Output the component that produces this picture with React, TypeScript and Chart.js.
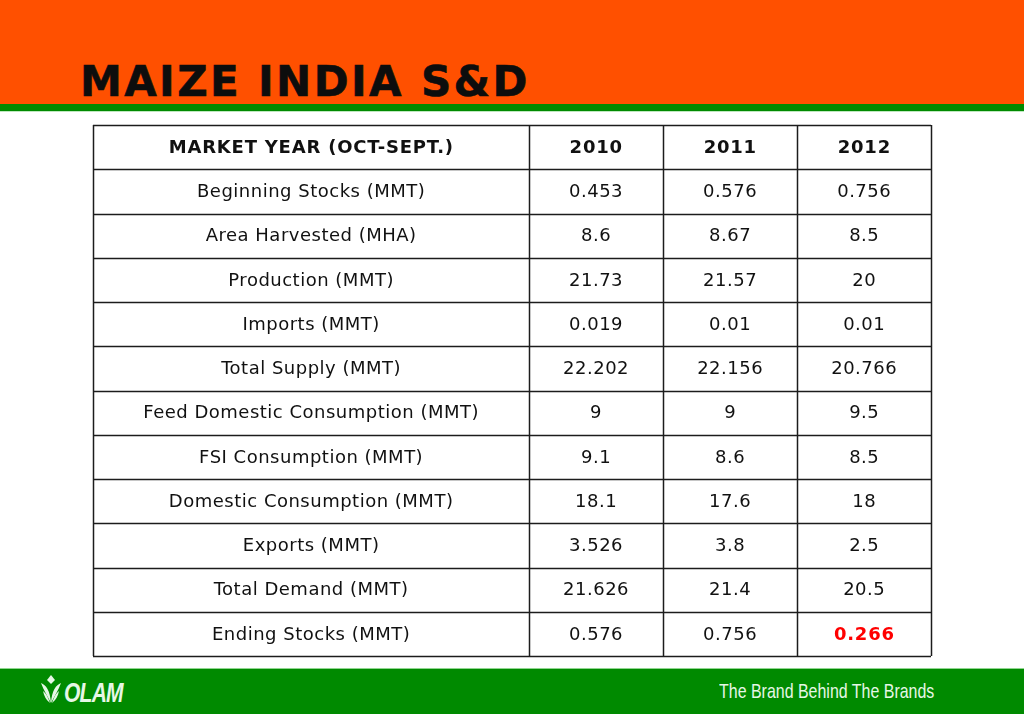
import React, { useEffect, useRef } from "react";
import { Chart, registerables } from "chart.js";
Chart.register(...registerables);

const title = "MAIZE INDIA S&D";
const headerLabel = "MARKET YEAR (OCT-SEPT.)";
const years = ["2010", "2011", "2012"];
const rowLabels = [
  "Beginning Stocks (MMT)",
  "Area Harvested (MHA)",
  "Production (MMT)",
  "Imports (MMT)",
  "Total Supply (MMT)",
  "Feed Domestic Consumption (MMT)",
  "FSI Consumption (MMT)",
  "Domestic Consumption (MMT)",
  "Exports (MMT)",
  "Total Demand (MMT)",
  "Ending Stocks (MMT)",
];
const values2010 = [0.453, 8.6, 21.73, 0.019, 22.202, 9, 9.1, 18.1, 3.526, 21.626, 0.576];
const values2011 = [0.576, 8.67, 21.57, 0.01, 22.156, 9, 8.6, 17.6, 3.8, 21.4, 0.756];
const values2012 = [0.756, 8.5, 20, 0.01, 20.766, 9.5, 8.5, 18, 2.5, 20.5, 0.266];
const highlightCells = [{ row: 10, year: "2012" }];
const columnEdges = [0, 3.25, 4.25, 5.25, 6.25];
const tagline = "The Brand Behind The Brands";
const brand = "OLAM";

const FONT = "'DejaVu Sans', Verdana, sans-serif";

type Cell = { x: number; y: number; text: string; bold: boolean; color: string };

function buildCells(): Cell[] {
  const cells: Cell[] = [];
  const center = (c: number) => (columnEdges[c] + columnEdges[c + 1]) / 2;
  cells.push({ x: center(0), y: 0.5, text: headerLabel, bold: true, color: "#111" });
  years.forEach((yr, i) => cells.push({ x: center(i + 1), y: 0.5, text: yr, bold: true, color: "#111" }));
  const series = [values2010, values2011, values2012];
  rowLabels.forEach((lab, r) => {
    cells.push({ x: center(0), y: r + 1.5, text: lab, bold: false, color: "#111" });
    series.forEach((vals, i) => {
      const hl = highlightCells.some((h) => h.row === r && h.year === years[i]);
      cells.push({
        x: center(i + 1),
        y: r + 1.5,
        text: String(vals[r]),
        bold: hl,
        color: hl ? "#FF0000" : "#111",
      });
    });
  });
  return cells;
}

const tablePlugin = {
  id: "tablePlugin",
  beforeDatasetsDraw(chart: any) {
    const { ctx, scales } = chart;
    const xs = scales.x;
    const ys = scales.y;
    const nRows = rowLabels.length + 1;
    ctx.save();
    ctx.strokeStyle = "#1c1c1c";
    ctx.lineWidth = 1.5;
    const top = ys.getPixelForValue(0);
    const bottom = ys.getPixelForValue(nRows);
    const left = xs.getPixelForValue(columnEdges[0]);
    const right = xs.getPixelForValue(columnEdges[columnEdges.length - 1]);
    ctx.beginPath();
    columnEdges.forEach((e) => {
      const px = Math.round(xs.getPixelForValue(e)) + 0.5;
      ctx.moveTo(px, top);
      ctx.lineTo(px, bottom);
    });
    for (let r = 0; r <= nRows; r++) {
      const py = Math.round(ys.getPixelForValue(r)) + 0.5;
      ctx.moveTo(left, py);
      ctx.lineTo(right, py);
    }
    ctx.stroke();
    ctx.restore();
  },
  afterDatasetsDraw(chart: any) {
    const { ctx } = chart;
    const meta = chart.getDatasetMeta(0);
    const data = chart.data.datasets[0].data as Cell[];
    ctx.save();
    ctx.textAlign = "center";
    ctx.textBaseline = "middle";
    meta.data.forEach((el: any, i: number) => {
      const c = data[i];
      ctx.fillStyle = c.color;
      ctx.font = (c.bold ? "bold 18px " : "18px ") + FONT;
      const ls = c.bold ? 0.8 : 0.5;
      (ctx as any).letterSpacing = ls + "px";
      ctx.fillText(c.text, el.x + ls / 2, el.y + 1);
    });
    ctx.restore();
  },
};

export default function App() {
  const ref = useRef<HTMLCanvasElement>(null);
  useEffect(() => {
    document.body.style.margin = "0";
    const chart = new Chart(ref.current!, {
      type: "scatter",
      data: {
        datasets: [
          {
            data: buildCells() as any,
            pointRadius: 0,
            pointHoverRadius: 0,
          },
        ],
      },
      options: {
        animation: false,
        responsive: false,
        events: [],
        layout: { padding: { left: 93, top: 125, right: 93, bottom: 58 } },
        plugins: { legend: { display: false }, tooltip: { enabled: false } },
        scales: {
          x: { type: "linear", display: false, min: columnEdges[0], max: columnEdges[columnEdges.length - 1] },
          y: { type: "linear", display: false, min: 0, max: rowLabels.length + 1, reverse: true },
        },
      },
      plugins: [tablePlugin],
    });
    return () => chart.destroy();
  }, []);

  return (
    <div style={{ position: "absolute", left: 0, top: 0, width: 1024, height: 714, background: "#fff", overflow: "hidden" }}>
      <div style={{ position: "absolute", left: 0, top: 0, width: 1024, height: 105, background: "#FF5000" }} />
      <div style={{ position: "absolute", left: 0, top: 104, width: 1024, height: 7, background: "#008A00" }} />
      <div style={{ position: "absolute", left: 0, top: 111, width: 1024, height: 1, background: "#bfe8bf" }} />
      <div
        style={{
          position: "absolute",
          left: 80,
          top: 61,
          fontFamily: FONT,
          fontWeight: "bold",
          fontSize: 42,
          lineHeight: "42px",
          letterSpacing: 2.4,
          color: "#0d0d0d",
          whiteSpace: "nowrap",
          WebkitTextStroke: "0.6px #0d0d0d",
        }}
      >
        {title}
      </div>
      <div style={{ position: "absolute", left: 0, top: 668, width: 1024, height: 1, background: "#8fd68f" }} />
      <div style={{ position: "absolute", left: 0, top: 669, width: 1024, height: 45, background: "#008A00" }} />
      <svg style={{ position: "absolute", left: 38, top: 673 }} width="26" height="32" viewBox="0 0 26 32">
        <path d="M13 2 L17 7 L13 11 L9 7 Z" fill="#e6f7e6" />
        <path d="M3 10 C8 12 12 17 13 30 C10 24 6 18 3 10 Z" fill="#e6f7e6" />
        <path d="M23 10 C18 12 14 17 13 30 C16 24 20 18 23 10 Z" fill="#e6f7e6" />
        <path d="M5 18 C8 20 10 24 12 30 C8 27 6 23 5 18 Z" fill="#e6f7e6" />
        <path d="M21 18 C18 20 16 24 14 30 C18 27 20 23 21 18 Z" fill="#e6f7e6" />
      </svg>
      <div
        style={{
          position: "absolute",
          left: 64,
          top: 678,
          fontFamily: "'Liberation Sans Narrow', 'Liberation Sans', Arial, sans-serif",
          fontWeight: "bold",
          fontStyle: "italic",
          fontSize: 27,
          lineHeight: "30px",
          color: "#e6f7e6",
          transform: "scaleX(0.78)",
          transformOrigin: "left center",
          letterSpacing: -1,
        }}
      >
        {brand}
      </div>
      <div
        style={{
          position: "absolute",
          left: 719,
          top: 678,
          fontFamily: "'Liberation Sans Narrow', 'Liberation Sans', Arial, sans-serif",
          fontSize: 21,
          lineHeight: "26px",
          color: "#e6f7e6",
          whiteSpace: "nowrap",
          transform: "scaleX(0.76)",
          transformOrigin: "left center",
        }}
      >
        {tagline}
      </div>
      <canvas ref={ref} width={1024} height={714} style={{ position: "absolute", left: 0, top: 0, width: 1024, height: 714 }} />
    </div>
  );
}
